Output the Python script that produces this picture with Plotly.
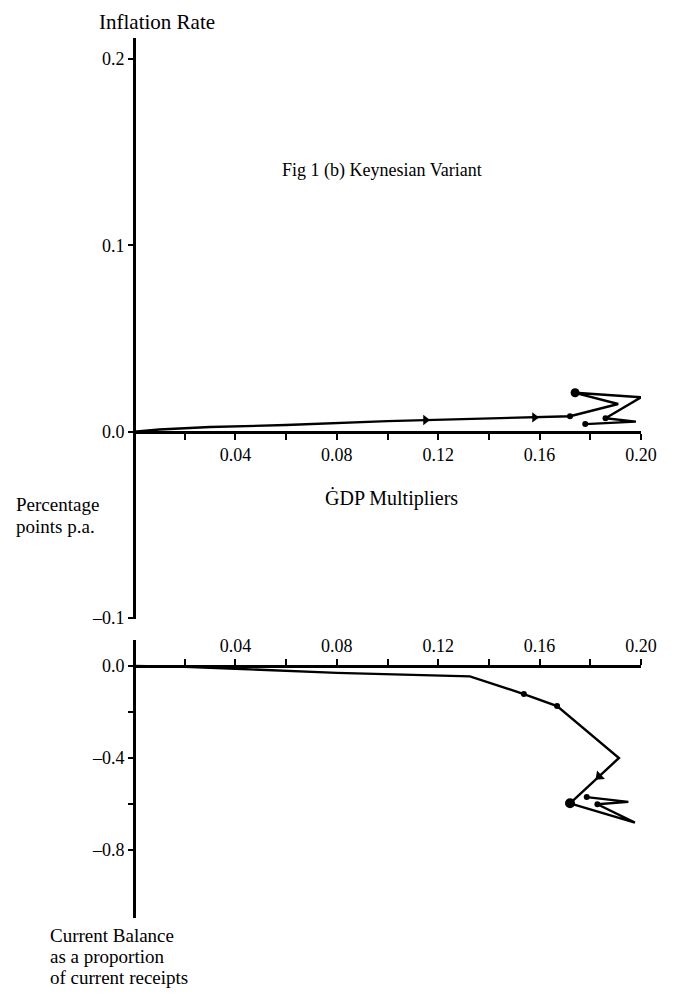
import plotly.graph_objects as go

# ---------------- data ----------------
# Upper panel: inflation rate vs GDP multiplier
gdp_infl = [0.0, 0.01, 0.03, 0.06, 0.10, 0.13, 0.16, 0.172, 0.191, 0.174, 0.200, 0.186, 0.198, 0.178]
infl_rate = [0.0, 0.0012, 0.0025, 0.0036, 0.0057, 0.0068, 0.0078, 0.0083, 0.0149, 0.0209, 0.0185, 0.0072, 0.0054, 0.0041]
infl_dot_x = [0.172, 0.186, 0.178]
infl_dot_y = [0.0083, 0.0072, 0.0041]
infl_bigdot_x = [0.174]
infl_bigdot_y = [0.0209]
infl_arrow_x = [0.115, 0.158]
infl_arrow_y = [0.0063, 0.0077]

# Lower panel: current balance vs GDP multiplier
gdp_cb = [0.0, 0.02, 0.04, 0.08, 0.1325, 0.1538, 0.1669, 0.1913, 0.172, 0.1976, 0.1828, 0.195, 0.1786]
cur_bal = [0.0, -0.004, -0.012, -0.03, -0.045, -0.122, -0.174, -0.40, -0.597, -0.681, -0.601, -0.591, -0.57]
cb_dot_x = [0.1538, 0.1669, 0.1828, 0.1786]
cb_dot_y = [-0.122, -0.174, -0.601, -0.57]
cb_bigdot_x = [0.172]
cb_bigdot_y = [-0.597]
cb_arrow_x = [0.1835]
cb_arrow_y = [-0.48]

# Tick labels
x_tickvals = [0.02, 0.04, 0.06, 0.08, 0.10, 0.12, 0.14, 0.16, 0.18, 0.20]
x_ticktext = ["", "0.04", "", "0.08", "", "0.12", "", "0.16", "", "0.20"]
infl_tickvals = [0.2, 0.1, 0.0, -0.1]
infl_ticktext = ["0.2", "0.1", "0.0", "\u20130.1"]
cb_tickvals = [0.0, -0.2, -0.4, -0.6, -0.8]
cb_ticktext = ["0.0", "", "\u20130.4", "", "\u20130.8"]

# ---------------- layout geometry ----------------
OFF = 8  # page body margin of the html page
W, H = 679, 1000
L, R, T, B = 134 - OFF, 679 - (641 - OFF), 38 - OFF, 1000 - (918 - OFF)
PW, PH = W - L - R, H - T - B

def px(xp):
    return (xp - OFF - L) / PW

def py(yp):
    return (H - B - (yp - OFF)) / PH

up_dom = [py(619), 1.0]
lo_dom = [0.0, py(640)]
up_rng = [-0.1005, 0.2113]
lo_rng = [-1.0957, 0.113]

def zero_pos(dom, rng):
    return dom[0] + (0 - rng[0]) / (rng[1] - rng[0]) * (dom[1] - dom[0])

FONT = "Liberation Serif"
LW = 2.4

fig = go.Figure()

# Upper panel
fig.add_trace(go.Scatter(x=gdp_infl, y=infl_rate, mode="lines",
                         line=dict(color="black", width=LW), xaxis="x", yaxis="y",
                         cliponaxis=False, showlegend=False))
fig.add_trace(go.Scatter(x=infl_dot_x, y=infl_dot_y, mode="markers",
                         marker=dict(color="black", size=6), xaxis="x", yaxis="y",
                         cliponaxis=False, showlegend=False))
fig.add_trace(go.Scatter(x=infl_bigdot_x, y=infl_bigdot_y, mode="markers",
                         marker=dict(color="black", size=9), xaxis="x", yaxis="y",
                         cliponaxis=False, showlegend=False))
fig.add_trace(go.Scatter(x=infl_arrow_x, y=infl_arrow_y, mode="markers",
                         marker=dict(color="black", size=9, symbol="triangle-right"),
                         xaxis="x", yaxis="y", cliponaxis=False, showlegend=False))

# Lower panel
fig.add_trace(go.Scatter(x=gdp_cb, y=cur_bal, mode="lines",
                         line=dict(color="black", width=LW), xaxis="x2", yaxis="y2",
                         cliponaxis=False, showlegend=False))
fig.add_trace(go.Scatter(x=cb_dot_x, y=cb_dot_y, mode="markers",
                         marker=dict(color="black", size=6), xaxis="x2", yaxis="y2",
                         cliponaxis=False, showlegend=False))
fig.add_trace(go.Scatter(x=cb_bigdot_x, y=cb_bigdot_y, mode="markers",
                         marker=dict(color="black", size=10), xaxis="x2", yaxis="y2",
                         cliponaxis=False, showlegend=False))
fig.add_trace(go.Scatter(x=cb_arrow_x, y=cb_arrow_y, mode="markers",
                         marker=dict(color="black", size=10, symbol="triangle-up", angle=227),
                         xaxis="x2", yaxis="y2", cliponaxis=False, showlegend=False))

axis_font = dict(family=FONT, size=18, color="black")
common_x = dict(range=[0, 0.2], showgrid=False, zeroline=False, showline=True,
                linecolor="black", linewidth=3, ticks="outside", ticklen=6,
                tickwidth=2, tickcolor="black", tickvals=x_tickvals,
                ticktext=x_ticktext, tickfont=axis_font, anchor="free")
common_y = dict(showgrid=False, zeroline=False, showline=True, linecolor="black",
                linewidth=3, ticks="outside", ticklen=5, tickwidth=2,
                tickcolor="black", tickfont=axis_font, anchor="free", position=0)

fig.update_layout(
    width=W, height=H,
    margin=dict(l=L, r=R, t=T, b=B),
    paper_bgcolor="white", plot_bgcolor="white",
    font=dict(family=FONT, color="black"),
    xaxis=dict(common_x, domain=[0, 1], side="bottom",
               position=zero_pos(up_dom, up_rng)),
    yaxis=dict(common_y, domain=up_dom, range=up_rng,
               tickvals=infl_tickvals, ticktext=infl_ticktext),
    xaxis2=dict(common_x, domain=[0, 1], side="top",
                position=zero_pos(lo_dom, lo_rng)),
    yaxis2=dict(common_y, domain=lo_dom, range=lo_rng,
                tickvals=cb_tickvals, ticktext=cb_ticktext),
)

def add_text(text, x, y, size=19, xanchor="center"):
    fig.add_annotation(text=text, x=px(x), y=py(y), xref="paper", yref="paper",
                       xanchor=xanchor, yanchor="middle", showarrow=False,
                       font=dict(family=FONT, size=size, color="black"))

add_text("Inflation Rate", 157, 22, size=21)
add_text("Fig 1 (b) Keynesian Variant", 382, 170, size=18)
add_text("Percentage", 14, 504, size=19, xanchor="left")
add_text("points p.a.", 14, 526, size=19, xanchor="left")
add_text("\u0120DP Multipliers", 391, 498, size=20)
add_text("Current Balance", 48, 935, size=19, xanchor="left")
add_text("as a proportion", 48, 956, size=19, xanchor="left")
add_text("of current receipts", 48, 977, size=19, xanchor="left")

fig.write_html("out.html")
